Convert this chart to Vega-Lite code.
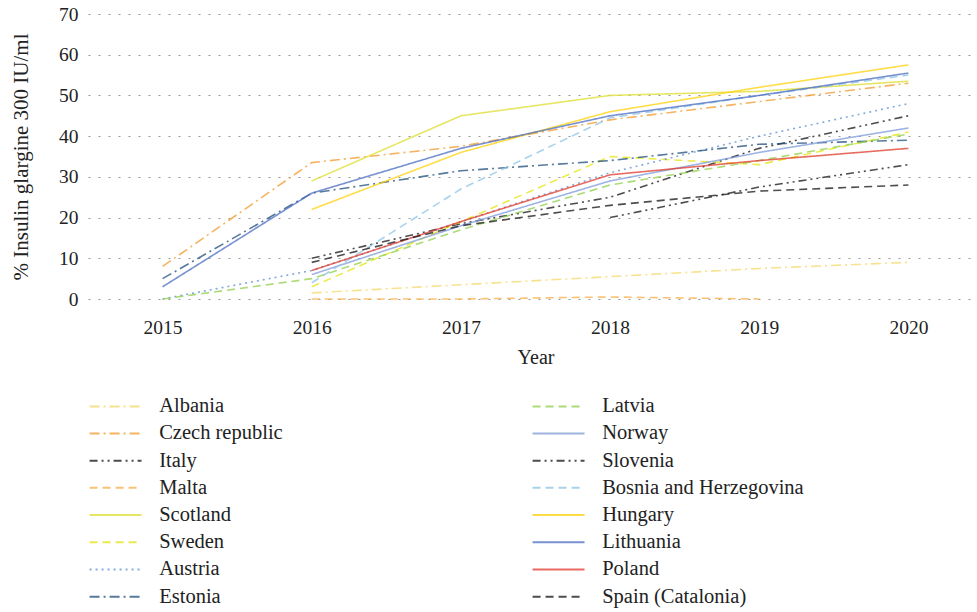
{
  "$schema": "https://vega.github.io/schema/vega-lite/v6.json",
  "autosize": {"type": "none"},
  "padding": {"left": 88, "top": 14, "right": 0, "bottom": 313},
  "width": 895,
  "height": 285,
  "background": "white",
  "config": {
    "view": {"stroke": null},
    "font": "Liberation Serif",
    "axis": {"labelFont": "Liberation Serif", "titleFont": "Liberation Serif", "labelColor": "#222", "titleColor": "#222", "titleFontWeight": "normal"},
    "legend": {"labelFont": "Liberation Serif"}
  },
  "data": {"values": [
    {"country": "Albania", "year": "2016", "value": 1.5},
    {"country": "Albania", "year": "2017", "value": 3.5},
    {"country": "Albania", "year": "2018", "value": 5.5},
    {"country": "Albania", "year": "2019", "value": 7.5},
    {"country": "Albania", "year": "2020", "value": 9},
    {"country": "Czech republic", "year": "2015", "value": 8},
    {"country": "Czech republic", "year": "2016", "value": 33.5},
    {"country": "Czech republic", "year": "2017", "value": 37.5},
    {"country": "Czech republic", "year": "2018", "value": 44},
    {"country": "Czech republic", "year": "2019", "value": 48.5},
    {"country": "Czech republic", "year": "2020", "value": 53},
    {"country": "Italy", "year": "2016", "value": 10},
    {"country": "Italy", "year": "2017", "value": 18.5},
    {"country": "Italy", "year": "2018", "value": 25},
    {"country": "Italy", "year": "2019", "value": 37},
    {"country": "Italy", "year": "2020", "value": 45},
    {"country": "Malta", "year": "2016", "value": 0},
    {"country": "Malta", "year": "2017", "value": 0},
    {"country": "Malta", "year": "2018", "value": 0.5},
    {"country": "Malta", "year": "2019", "value": 0},
    {"country": "Scotland", "year": "2016", "value": 29},
    {"country": "Scotland", "year": "2017", "value": 45},
    {"country": "Scotland", "year": "2018", "value": 50},
    {"country": "Scotland", "year": "2019", "value": 51},
    {"country": "Scotland", "year": "2020", "value": 53.5},
    {"country": "Sweden", "year": "2016", "value": 3},
    {"country": "Sweden", "year": "2017", "value": 19},
    {"country": "Sweden", "year": "2018", "value": 35},
    {"country": "Sweden", "year": "2019", "value": 33},
    {"country": "Sweden", "year": "2020", "value": 41},
    {"country": "Austria", "year": "2015", "value": 0},
    {"country": "Austria", "year": "2016", "value": 7},
    {"country": "Austria", "year": "2017", "value": 19},
    {"country": "Austria", "year": "2018", "value": 31},
    {"country": "Austria", "year": "2019", "value": 40},
    {"country": "Austria", "year": "2020", "value": 48},
    {"country": "Estonia", "year": "2015", "value": 5},
    {"country": "Estonia", "year": "2016", "value": 26},
    {"country": "Estonia", "year": "2017", "value": 31.5},
    {"country": "Estonia", "year": "2018", "value": 34},
    {"country": "Estonia", "year": "2019", "value": 38},
    {"country": "Estonia", "year": "2020", "value": 39},
    {"country": "Latvia", "year": "2015", "value": 0},
    {"country": "Latvia", "year": "2016", "value": 5},
    {"country": "Latvia", "year": "2017", "value": 17},
    {"country": "Latvia", "year": "2018", "value": 28},
    {"country": "Latvia", "year": "2019", "value": 34},
    {"country": "Latvia", "year": "2020", "value": 40.5},
    {"country": "Norway", "year": "2016", "value": 6},
    {"country": "Norway", "year": "2017", "value": 18},
    {"country": "Norway", "year": "2018", "value": 29},
    {"country": "Norway", "year": "2019", "value": 36},
    {"country": "Norway", "year": "2020", "value": 42},
    {"country": "Slovenia", "year": "2018", "value": 20},
    {"country": "Slovenia", "year": "2019", "value": 27.5},
    {"country": "Slovenia", "year": "2020", "value": 33},
    {"country": "Bosnia and Herzegovina", "year": "2016", "value": 4},
    {"country": "Bosnia and Herzegovina", "year": "2017", "value": 27},
    {"country": "Bosnia and Herzegovina", "year": "2018", "value": 44.5},
    {"country": "Bosnia and Herzegovina", "year": "2019", "value": 50},
    {"country": "Bosnia and Herzegovina", "year": "2020", "value": 55},
    {"country": "Hungary", "year": "2016", "value": 22},
    {"country": "Hungary", "year": "2017", "value": 36},
    {"country": "Hungary", "year": "2018", "value": 46},
    {"country": "Hungary", "year": "2019", "value": 52},
    {"country": "Hungary", "year": "2020", "value": 57.5},
    {"country": "Lithuania", "year": "2015", "value": 3},
    {"country": "Lithuania", "year": "2016", "value": 26},
    {"country": "Lithuania", "year": "2017", "value": 37},
    {"country": "Lithuania", "year": "2018", "value": 45},
    {"country": "Lithuania", "year": "2019", "value": 50},
    {"country": "Lithuania", "year": "2020", "value": 55.5},
    {"country": "Poland", "year": "2016", "value": 7},
    {"country": "Poland", "year": "2017", "value": 19},
    {"country": "Poland", "year": "2018", "value": 30.5},
    {"country": "Poland", "year": "2019", "value": 34},
    {"country": "Poland", "year": "2020", "value": 37},
    {"country": "Spain (Catalonia)", "year": "2016", "value": 9},
    {"country": "Spain (Catalonia)", "year": "2017", "value": 18},
    {"country": "Spain (Catalonia)", "year": "2018", "value": 23},
    {"country": "Spain (Catalonia)", "year": "2019", "value": 26.5},
    {"country": "Spain (Catalonia)", "year": "2020", "value": 28}
  ]},
  "mark": {"type": "line", "strokeWidth": 1.6, "opacity": 0.75},
  "encoding": {
    "x": {"field": "year", "type": "ordinal", "scale": {"type": "point", "padding": 0.5},
      "axis": {"title": "Year", "labelAngle": 0, "domain": false, "ticks": false, "labelFontSize": 19.5, "labelPadding": 19, "titleFontSize": 20, "titlePadding": 11}},
    "y": {"field": "value", "type": "quantitative", "scale": {"domain": [0, 70]},
      "axis": {"title": "% Insulin glargine 300 IU/ml", "values": [0, 10, 20, 30, 40, 50, 60, 70], "domain": false, "ticks": false, "labelFontSize": 19.5, "labelPadding": 10, "titleFontSize": 21, "titlePadding": 27,
        "gridColor": "#999", "gridDash": [2, 8], "gridWidth": 1.2}},
    "color": {"field": "country", "type": "nominal",
      "scale": {
        "domain": ["Albania", "Czech republic", "Italy", "Malta", "Scotland", "Sweden", "Austria", "Estonia", "Latvia", "Norway", "Slovenia", "Bosnia and Herzegovina", "Hungary", "Lithuania", "Poland", "Spain (Catalonia)"],
        "range": ["#f4d86a", "#f39a2c", "#111111", "#f7ae48", "#dede30", "#e6e410", "#5b8fd0", "#1f4e79", "#8fcf4a", "#7d9bd8", "#111111", "#8cc4e6", "#fdd20a", "#4a6cc0", "#e0392b", "#111111"]
      },
      "legend": {"title": null, "orient": "none", "legendX": 0, "legendY": 382, "columns": 2, "direction": "vertical",
        "symbolType": "M-3,0H3", "symbolSize": 300, "symbolStrokeWidth": 2, "symbolOpacity": 1, "symbolFillColor": "transparent", "symbolOffset": 17.3,
        "labelFontSize": 20.5, "labelColor": "#222", "labelOffset": 33.4, "rowPadding": 6.2, "columnPadding": 245, "gridAlign": "each", "labelLimit": 400}
    },
    "strokeDash": {"field": "country", "type": "nominal",
      "scale": {
        "domain": ["Albania", "Czech republic", "Italy", "Malta", "Scotland", "Sweden", "Austria", "Estonia", "Latvia", "Norway", "Slovenia", "Bosnia and Herzegovina", "Hungary", "Lithuania", "Poland", "Spain (Catalonia)"],
        "range": [[10, 4, 2, 4], [10, 4, 2, 4], [8, 4, 2, 4, 2, 4], [8, 5], [1, 0], [8, 5], [2, 4], [10, 4, 2, 4], [8, 5], [1, 0], [8, 4, 2, 4, 2, 4], [8, 5], [1, 0], [1, 0], [1, 0], [8, 5]]
      }
    }
  }
}
